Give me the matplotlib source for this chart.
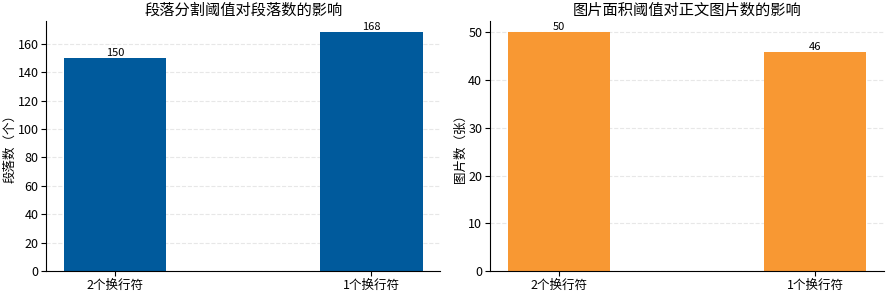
import matplotlib
matplotlib.use('Agg')
import matplotlib.pyplot as plt

plt.rcParams['font.family'] = ['Noto Sans CJK SC', 'DejaVu Sans']
plt.rcParams['axes.unicode_minus'] = False

categories = ['2个换行符', '1个换行符']
paragraph_counts = [150, 168]
image_counts = [50, 46]

fig, axes = plt.subplots(1, 2, figsize=(8.86, 2.93), dpi=100)

panels = [
    (axes[0], paragraph_counts, '#005a9c', '段落分割阈值对段落数的影响', '段落数（个）'),
    (axes[1], image_counts, '#f89833', '图片面积阈值对正文图片数的影响', '图片数（张）'),
]

for ax, values, color, title, ylabel in panels:
    bars = ax.bar(categories, values, width=0.4, color=color, zorder=2)
    ax.bar_label(bars, fontsize=8, padding=0)
    ax.set_title(title, fontsize=11, pad=4)
    ax.set_ylabel(ylabel, fontsize=9, labelpad=1)
    ax.tick_params(labelsize=9, pad=2)
    ax.grid(axis='y', linestyle='--', color='#dddddd', alpha=0.7, zorder=0)
    ax.spines['top'].set_visible(False)
    ax.spines['right'].set_visible(False)

fig.subplots_adjust(left=0.052, right=0.998, top=0.93, bottom=0.075, wspace=0.125)
fig.savefig('out.png')
